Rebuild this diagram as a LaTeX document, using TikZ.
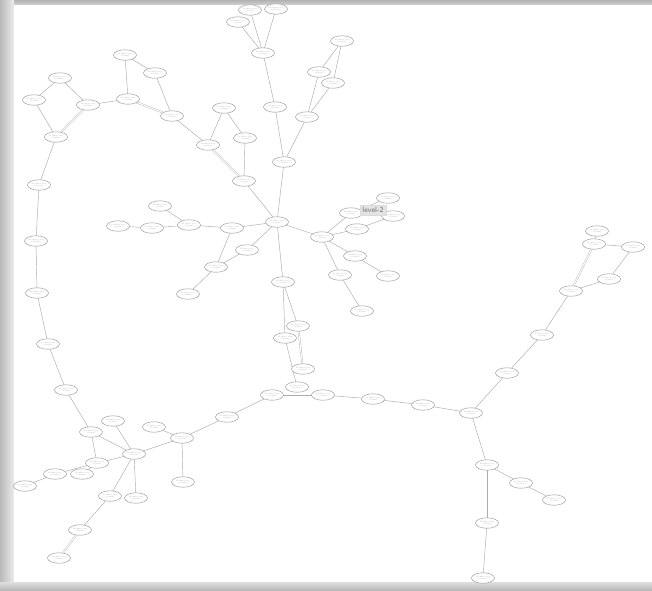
\documentclass[tikz,border=0pt]{standalone}
\usetikzlibrary{shapes.geometric}
\begin{document}
\begin{tikzpicture}[x=1pt,y=-1pt,
  nd/.style={ellipse,draw=gray!75,line width=0.5pt,fill=white,minimum width=23pt,minimum height=10.5pt,inner sep=0pt,
    font=\fontsize{1.7}{2}\selectfont,text=gray!80,align=center},
  ed/.style={draw=gray!65,line width=0.45pt},
  dbl/.style={draw=gray!65,line width=0.35pt,double=white,double distance=1.1pt},
  tag/.style={fill=gray!22,draw=gray!28,inner sep=2.2pt,font=\sffamily\fontsize{7.5}{8}\selectfont,text=gray!85!black}]
\useasboundingbox (0,0) rectangle (652,590);
\fill[gray!50] (0,0) rectangle (652,590);
\shade[top color=gray!60,bottom color=gray!35] (0,0) rectangle (652,5);
\shade[left color=gray!55,right color=gray!15] (0,0) rectangle (14,590);
\shade[top color=gray!25,bottom color=gray!55] (0,582) rectangle (652,590);
\fill[white] (14,5) rectangle (652,582);
\newcommand{\tx}{Workflow step\\ (default)}
% nodes
\foreach \n/\x/\y in {A1/125/55,A2/155/73,A3/60/78,A4/34/100,A5/88/105,A6/128/99,A7/172/116,A8/56/137,A9/208/145,A10/39/185,
 B1/250/10,B2/276/9,B3/238/22,B4/263/53,B5/342/41,B6/319/72,B7/333/83,B8/275/107,B9/307/117,B10/224/108,B12/245/138,B13/284/162,B14/244/181,
 C1/277/222,C2/160/206,C3/118/226,C4/152/228,C5/189/225,C6/232/228,C7/247/250,C8/216/267,C9/188/294,C10/283/282,C11/298/326,
 C12/322/237,C13/351/213,C14/357/229,C15/388/198,C16/393/216,C17/355/256,C18/388/276,C19/340/275,C20/362/311,
 G1/285/338,G2/303/369,G3/297/387,G4/272/395,G5/323/395,G6/373/399,G7/423/405,H1/227/417,
 L1/36/241,L2/37/293,D1/48/344,D2/66/390,D3/91/432,D4/113/421,D5/154/427,D6/182/438,D7/134/454,D8/97/463,D9/82/474,
 D10/55/474,D11/25/486,D12/183/482,D13/110/496,D14/136/498,D15/80/530,D16/59/558,
 E1/597/231,E2/594/244,E3/633/247,E4/609/279,E5/571/291,E6/542/335,E7/507/373,E8/471/413,
 F2/487/465,F3/521/483,F4/554/500,F5/487/523,F6/483/578}
 {\coordinate (p\n) at (\x,\y);}
% edges
\foreach \a/\b in {A1/A6,A1/A2,A2/A7,A5/A6,A7/A9,A3/A5,A3/A4,A4/A8,A8/A10,
 B3/B4,B1/B4,B2/B4,B4/B8,B8/B13,B5/B6,B5/B7,B6/B9,B7/B9,B9/B13,B13/C1,B10/A9,B10/B12,B12/B14,B14/C1,
 C1/C6,C6/C5,C5/C2,C5/C4,C4/C3,C6/C8,C7/C8,C7/C1,C8/C9,C1/C10,C10/G1,C10/C11,G1/G3,
 C1/C12,C12/C13,C12/C14,C13/C15,C14/C16,C12/C17,C17/C18,C12/C19,C19/C20,
 G4/G5,G5/G6,G6/G7,G7/E8,E8/E7,E7/E6,E6/E5,E5/E4,E4/E3,E3/E2,E2/E1,E8/F2,F2/F3,F3/F4,F2/F5,F5/F6,
 G4/H1,H1/D6,D5/D6,D6/D7,D6/D12,D4/D7,D3/D7,D3/D8,D8/D7,D8/D10,D8/D9,D10/D11,D7/D13,D7/D14,D13/D15,
 A10/L1,L1/L2,L2/D1,D1/D2,D2/D3}
 {\path[ed] (p\a) -- (p\b);}
\foreach \a/\b in {A5/A8,A6/A7,A9/B14,E2/E5,D15/D16,C11/G2}
 {\path[dbl] (p\a) -- (p\b);}
\foreach \n in {A1,A2,A3,A4,A5,A6,A7,A8,A9,A10,B1,B2,B3,B4,B5,B6,B7,B8,B9,B10,B12,B13,B14,
 C1,C2,C3,C4,C5,C6,C7,C8,C9,C10,C11,C12,C13,C14,C15,C16,C17,C18,C19,C20,
 G1,G2,G3,G4,G5,G6,G7,H1,L1,L2,D1,D2,D3,D4,D5,D6,D7,D8,D9,D10,D11,D12,D13,D14,D15,D16,
 E1,E2,E3,E4,E5,E6,E7,E8,F2,F3,F4,F5,F6}
 {\node[nd] (\n) at (p\n) {\tx};}
\node[tag] (lvl) at (373,210) {level-2};
\end{tikzpicture}
\end{document}
